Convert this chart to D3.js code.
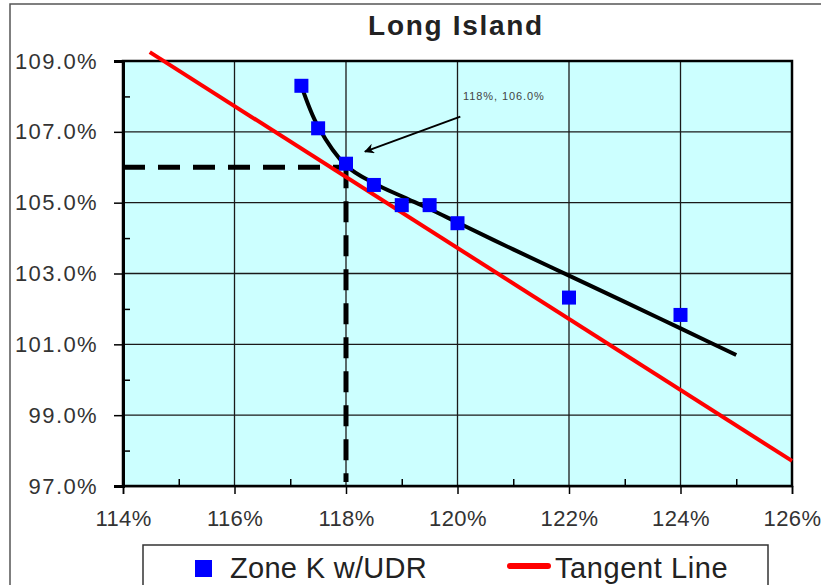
<!DOCTYPE html>
<html>
<head>
<meta charset="utf-8">
<script src="https://cdn.jsdelivr.net/npm/d3@7"></script>
<style>
  html, body { margin: 0; padding: 0; background: #fff; }
  svg { display: block; font-family: "Liberation Sans", Arial, sans-serif; }
</style>
</head>
<body>
<svg id="chart" width="821" height="585"></svg>
<script>
// ---- data ----
const titleText = "Long Island";
const xTicks = [114, 116, 118, 120, 122, 124, 126];
const xMinorTicks = [115, 117, 119, 121, 123, 125];
const yTicks = [97, 99, 101, 103, 105, 107, 109];
const yMinorTicks = [98, 100, 102, 104, 106, 108];

const zoneX = [117.2, 117.5, 118.0, 118.5, 119.0, 119.5, 120.0, 122.0, 124.0];
const zoneY = [108.3, 107.1, 106.1, 105.5, 104.93, 104.93, 104.42, 102.32, 101.83];

const trendX = [117.2, 117.5, 118.0, 118.5, 119.0, 119.5, 120.0, 121.0, 122.0, 123.0, 124.0, 125.0];
const trendY = [108.3, 107.15, 106.05, 105.55, 105.18, 104.82, 104.44, 103.68, 102.94, 102.2, 101.45, 100.7];

const tangentX = [114.48, 126.0];
const tangentY = [109.25, 97.71];

const targetX = 118.0;
const targetY = 106.0;

const annotationText = "118%, 106.0%";
const annotationPos = [120.1, 107.97];
const arrowFrom = [120.05, 107.43];
const arrowTo = [118.34, 106.44];

const legendLabels = ["Zone K w/UDR", "Tangent Line"];

// ---- drawing ----
const svg = d3.select("#chart");
const x = d3.scaleLinear().domain([114, 126]).range([123, 792]);
const y = d3.scaleLinear().domain([97, 109]).range([486, 61]);

// outer frame
svg.append("rect").attr("x", 10).attr("y", 4).attr("width", 830).attr("height", 620)
  .attr("fill", "#fff").attr("stroke", "#555").attr("stroke-width", 1.5);

// plot background
svg.append("rect").attr("x", x(114)).attr("y", y(109))
  .attr("width", x(126) - x(114)).attr("height", y(97) - y(109))
  .attr("fill", "#ccffff");

// grid
const grid = svg.append("g").attr("stroke", "#1a1a1a").attr("stroke-width", 1.3);
grid.selectAll("line.vx").data(xTicks).join("line")
  .attr("x1", d => x(d)).attr("x2", d => x(d)).attr("y1", y(109)).attr("y2", y(97));
grid.selectAll("line.hy").data(yTicks).join("line")
  .attr("x1", x(114)).attr("x2", x(126)).attr("y1", d => y(d)).attr("y2", d => y(d));

// plot border
svg.append("rect").attr("x", x(114)).attr("y", y(109))
  .attr("width", x(126) - x(114)).attr("height", y(97) - y(109))
  .attr("fill", "none").attr("stroke", "#000").attr("stroke-width", 2.5);

// axes
const xAxis = d3.axisBottom(x).tickValues(xTicks).tickSize(8).tickPadding(16)
  .tickFormat(d => d + "%");
const gx = svg.append("g").attr("transform", `translate(0,${y(97)})`).call(xAxis);
gx.select(".domain").attr("stroke", "#000").attr("stroke-width", 1.5);
gx.selectAll(".tick line").attr("stroke", "#000").attr("stroke-width", 1.5);
gx.selectAll(".tick text").attr("font-size", 22).attr("fill", "#333")
  .attr("font-family", "Liberation Sans, Arial, sans-serif").style("letter-spacing", "0.4px");

const xMinor = d3.axisBottom(x).tickValues(xMinorTicks).tickSize(-7).tickFormat("");
const gxm = svg.append("g").attr("transform", `translate(0,${y(97)})`).call(xMinor);
gxm.select(".domain").remove();
gxm.selectAll(".tick line").attr("stroke", "#000").attr("stroke-width", 1.5);

const yAxis = d3.axisLeft(y).tickValues(yTicks).tickSize(9).tickPadding(16)
  .tickFormat(d => d3.format(".1f")(d) + "%");
const gy = svg.append("g").attr("transform", `translate(${x(114)},0)`).call(yAxis);
gy.select(".domain").attr("stroke", "#000").attr("stroke-width", 3);
gy.selectAll(".tick line").attr("stroke", "#000").attr("stroke-width", 1.5);
gy.selectAll(".tick text").attr("font-size", 22).attr("fill", "#333")
  .attr("font-family", "Liberation Sans, Arial, sans-serif").style("letter-spacing", "1.4px");

const yMinor = d3.axisLeft(y).tickValues(yMinorTicks).tickSize(-7).tickFormat("");
const gym = svg.append("g").attr("transform", `translate(${x(114)},0)`).call(yMinor);
gym.select(".domain").remove();
gym.selectAll(".tick line").attr("stroke", "#000").attr("stroke-width", 1.5);

// dashed reference lines
svg.append("line").attr("x1", x(114)).attr("x2", x(targetX))
  .attr("y1", y(targetY)).attr("y2", y(targetY))
  .attr("stroke", "#000").attr("stroke-width", 5).attr("stroke-dasharray", "22,13");
svg.append("line").attr("x1", x(targetX)).attr("x2", x(targetX))
  .attr("y1", y(targetY)).attr("y2", y(97) - 4)
  .attr("stroke", "#000").attr("stroke-width", 5).attr("stroke-dasharray", "21,13");

// tangent line
svg.append("path")
  .datum(tangentX.map((d, i) => [d, tangentY[i]]))
  .attr("d", d3.line().x(d => x(d[0])).y(d => y(d[1])))
  .attr("fill", "none").attr("stroke", "#ff0000").attr("stroke-width", 4);

// trend curve
svg.append("path")
  .datum(trendX.map((d, i) => [d, trendY[i]]))
  .attr("d", d3.line().x(d => x(d[0])).y(d => y(d[1])).curve(d3.curveCatmullRom))
  .attr("fill", "none").attr("stroke", "#000").attr("stroke-width", 4);

// points
const sq = 14;
svg.selectAll("rect.pt").data(zoneX.map((d, i) => [d, zoneY[i]])).join("rect")
  .attr("class", "pt")
  .attr("x", d => x(d[0]) - sq / 2).attr("y", d => y(d[1]) - sq / 2)
  .attr("width", sq).attr("height", sq).attr("fill", "#0000ff");

// annotation
const defs = svg.append("defs");
defs.append("marker").attr("id", "arr").attr("viewBox", "0 0 10 10")
  .attr("refX", 9).attr("refY", 5).attr("markerWidth", 7).attr("markerHeight", 5)
  .attr("orient", "auto").attr("markerUnits", "strokeWidth")
  .append("path").attr("d", "M0,0 L10,5 L0,10 L3,5 Z").attr("fill", "#000");
svg.append("line")
  .attr("x1", x(arrowFrom[0])).attr("y1", y(arrowFrom[1]))
  .attr("x2", x(arrowTo[0])).attr("y2", y(arrowTo[1]))
  .attr("stroke", "#000").attr("stroke-width", 2).attr("marker-end", "url(#arr)");
svg.append("text").attr("x", x(annotationPos[0])).attr("y", y(annotationPos[1]))
  .attr("dominant-baseline", "middle").attr("font-size", 11).attr("fill", "#444")
  .style("letter-spacing", "0.9px").text(annotationText);

// title
svg.append("text").attr("x", 456).attr("y", 35).attr("text-anchor", "middle")
  .attr("font-size", 28).attr("font-weight", "bold").attr("fill", "#222")
  .style("letter-spacing", "1.7px")
  .text(titleText);

// legend
svg.append("rect").attr("x", 143).attr("y", 545).attr("width", 625).attr("height", 70)
  .attr("fill", "#fff").attr("stroke", "#333").attr("stroke-width", 1.5);
svg.append("rect").attr("x", 195).attr("y", 560).attr("width", 17).attr("height", 17)
  .attr("fill", "#0000ff");
svg.append("text").attr("x", 230).attr("y", 578).attr("font-size", 29).attr("fill", "#222")
  .style("letter-spacing", "0.3px").text(legendLabels[0]);
svg.append("line").attr("x1", 510).attr("x2", 548).attr("y1", 566).attr("y2", 566)
  .attr("stroke", "#ff0000").attr("stroke-width", 6).attr("stroke-linecap", "round");
svg.append("text").attr("x", 555).attr("y", 578).attr("font-size", 29).attr("fill", "#222")
  .style("letter-spacing", "0.6px").text(legendLabels[1]);
</script>
</body>
</html>
